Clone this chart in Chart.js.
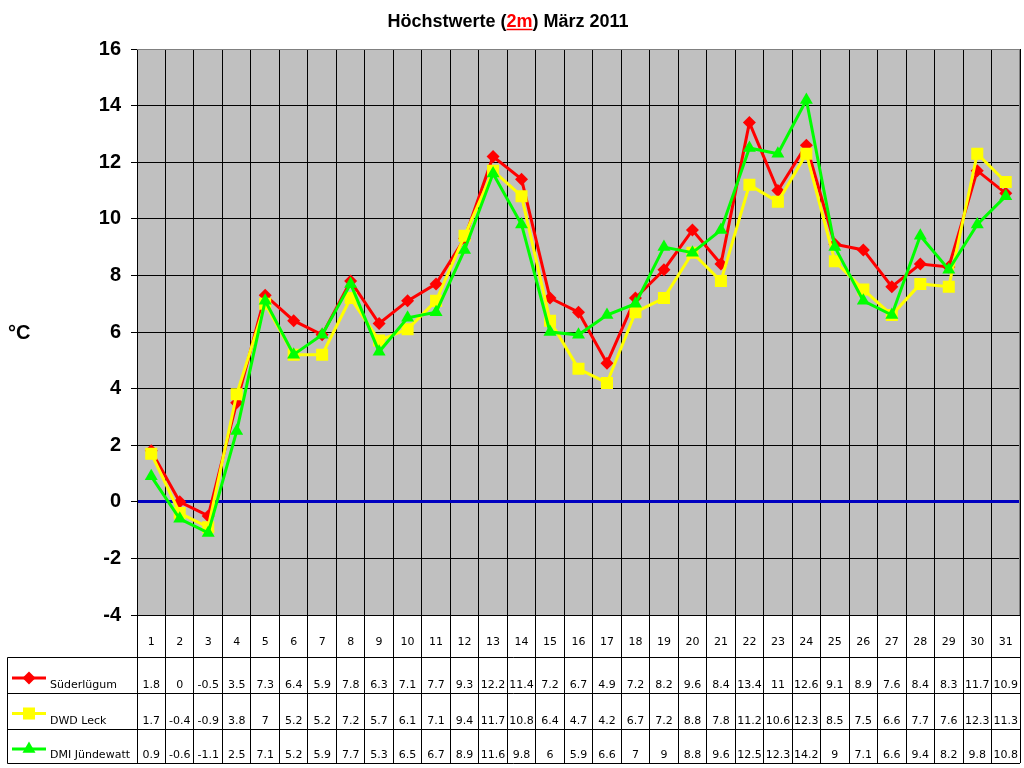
<!DOCTYPE html>
<html><head><meta charset="utf-8">
<script src="https://cdn.jsdelivr.net/npm/chart.js@4.4.0/dist/chart.umd.min.js"></script>
<style>html,body{margin:0;padding:0;background:#fff;overflow:hidden}canvas{display:block}</style>
</head><body>
<canvas id="c" width="1024" height="768"></canvas>
<script>
const days = ['1','2','3','4','5','6','7','8','9','10','11','12','13','14','15','16','17','18','19','20','21','22','23','24','25','26','27','28','29','30','31'];
const suederluegum = [1.8,0,-0.5,3.5,7.3,6.4,5.9,7.8,6.3,7.1,7.7,9.3,12.2,11.4,7.2,6.7,4.9,7.2,8.2,9.6,8.4,13.4,11,12.6,9.1,8.9,7.6,8.4,8.3,11.7,10.9];
const dwdLeck = [1.7,-0.4,-0.9,3.8,7,5.2,5.2,7.2,5.7,6.1,7.1,9.4,11.7,10.8,6.4,4.7,4.2,6.7,7.2,8.8,7.8,11.2,10.6,12.3,8.5,7.5,6.6,7.7,7.6,12.3,11.3];
const dmiJuendewatt = [0.9,-0.6,-1.1,2.5,7.1,5.2,5.9,7.7,5.3,6.5,6.7,8.9,11.6,9.8,6,5.9,6.6,7,9,8.8,9.6,12.5,12.3,14.2,9,7.1,6.6,9.4,8.2,9.8,10.8];
const seriesNames = ['Süderlügum','DWD Leck','DMI Jündewatt'];
const yMin = -4, yMax = 16, yStep = 2;
const titleParts = [['Höchstwerte (', '#000', false], ['2m', '#ff0000', true], [') März 2011', '#000', false]];
const unitLabel = '°C';

const colors = ['#ff0000', '#ffff00', '#00ff00'];
const shapes = ['rectRot', 'rect', 'triangle'];
const radii = [6.5, 8.5, 7.5];
const seriesData = [suederluegum, dwdLeck, dmiJuendewatt];

const TABLE_LEFT = 7.5;
const ROWS = [657.5, 693.5, 729.5, 763.5];
const FONT_T = '11px "DejaVu Sans"';

function drawMarker(ctx, shape, x, y, r, color) {
  ctx.save();
  ctx.fillStyle = color;
  ctx.beginPath();
  if (shape === 'rectRot') {
    ctx.moveTo(x, y - r); ctx.lineTo(x + r, y); ctx.lineTo(x, y + r); ctx.lineTo(x - r, y);
  } else if (shape === 'rect') {
    const s = r * Math.SQRT1_2;
    ctx.rect(x - s, y - s, 2 * s, 2 * s);
  } else {
    ctx.moveTo(x, y - r);
    ctx.lineTo(x + r * Math.sin(2 * Math.PI / 3), y - r * Math.cos(2 * Math.PI / 3));
    ctx.lineTo(x + r * Math.sin(4 * Math.PI / 3), y - r * Math.cos(4 * Math.PI / 3));
  }
  ctx.closePath();
  ctx.fill();
  ctx.restore();
}

const decor = {
  id: 'decor',
  beforeDraw(chart) {
    const {ctx, chartArea: a} = chart;
    ctx.save();
    ctx.fillStyle = '#c0c0c0';
    ctx.fillRect(a.left, a.top, a.right - a.left, a.bottom - a.top);
    ctx.restore();
  },
  beforeDatasetsDraw(chart) {
    const {ctx, chartArea: a} = chart;
    ctx.save();
    ctx.strokeStyle = '#808080';
    ctx.lineWidth = 1;
    ctx.beginPath();
    ctx.moveTo(a.left, Math.round(a.top) + 0.5);
    ctx.lineTo(Math.round(a.right) - 0.5, Math.round(a.top) + 0.5);
    ctx.lineTo(Math.round(a.right) - 0.5, a.bottom);
    ctx.stroke();
    ctx.restore();
  },
  afterDraw(chart) {
    const {ctx, chartArea: a} = chart;
    const xs = chart.scales.x;
    ctx.save();
    ctx.strokeStyle = '#000';
    ctx.lineWidth = 1;
    ctx.beginPath();
    ROWS.forEach(yy => { ctx.moveTo(TABLE_LEFT, yy); ctx.lineTo(a.right, yy); });
    ctx.moveTo(TABLE_LEFT, ROWS[0]); ctx.lineTo(TABLE_LEFT, ROWS[3]);
    ctx.stroke();
    for (let s = 0; s < 3; s++) {
      const top = ROWS[s], bot = ROWS[s + 1];
      const ly = top + 20.5 - s * 0.5;
      ctx.strokeStyle = colors[s];
      ctx.lineWidth = 3;
      ctx.beginPath(); ctx.moveTo(12, ly); ctx.lineTo(46, ly); ctx.stroke();
      drawMarker(ctx, shapes[s], 29, ly, radii[s], colors[s]);
      ctx.fillStyle = '#000';
      ctx.font = FONT_T;
      ctx.textBaseline = 'middle';
      ctx.textAlign = 'left';
      ctx.fillText(seriesNames[s], 50, bot - 8.5);
      ctx.textAlign = 'center';
      seriesData[s].forEach((v, i) => {
        ctx.fillText(String(v), xs.getPixelForValue(i), bot - 8.5);
      });
    }
    ctx.font = 'bold 20px "Liberation Sans", Arial';
    ctx.textAlign = 'left';
    ctx.textBaseline = 'middle';
    ctx.fillStyle = '#000';
    ctx.fillText(unitLabel, 8, 333);
    ctx.font = 'bold 18px "Liberation Sans", Arial';
    const widths = titleParts.map(p => ctx.measureText(p[0]).width);
    const total = widths.reduce((q, w) => q + w, 0);
    let tx = 508 - total / 2;
    const ty = 27;
    ctx.textBaseline = 'alphabetic';
    titleParts.forEach((p, k) => {
      ctx.fillStyle = p[1];
      ctx.fillText(p[0], tx, ty);
      if (p[2]) {
        ctx.strokeStyle = p[1];
        ctx.lineWidth = 1.5;
        ctx.beginPath(); ctx.moveTo(tx, ty + 2.5); ctx.lineTo(tx + widths[k], ty + 2.5); ctx.stroke();
      }
      tx += widths[k];
    });
    ctx.restore();
  }
};

new Chart(document.getElementById('c'), {
  type: 'line',
  data: {
    labels: days,
    datasets: seriesData.map((d, s) => ({
      label: seriesNames[s],
      data: d,
      borderColor: colors[s],
      backgroundColor: colors[s],
      borderWidth: 3,
      pointStyle: shapes[s],
      pointRadius: radii[s],
      pointHoverRadius: radii[s],
      pointBorderWidth: 0,
      pointBackgroundColor: colors[s],
      tension: 0,
      order: 3 - s
    }))
  },
  options: {
    responsive: false,
    devicePixelRatio: 1,
    animation: false,
    events: [],
    layout: {autoPadding: false, padding: {top: 49, right: 4, left: 0, bottom: 0}},
    plugins: {legend: {display: false}, title: {display: false}, tooltip: {enabled: false}},
    scales: {
      x: {
        offset: true,
        afterFit(scale) { scale.height = 153; },
        grid: {offset: true, color: '#000', lineWidth: 1, tickColor: '#000', tickLength: 148, drawTicks: true},
        border: {display: true, color: '#000', width: 1},
        ticks: {font: {family: 'DejaVu Sans', size: 11}, color: '#000', padding: -127, maxRotation: 0, autoSkip: false}
      },
      y: {
        min: yMin, max: yMax,
        afterFit(scale) { scale.width = 137; },
        grid: {
          color: ctx => ctx.tick && ctx.tick.value === 0 ? '#0000c0' : (ctx.tick && ctx.tick.value === yMax ? '#808080' : '#000'),
          lineWidth: ctx => ctx.tick && ctx.tick.value === 0 ? 3 : 1,
          tickColor: '#000', tickWidth: 1, tickLength: 6
        },
        border: {display: true, color: '#000', width: 1},
        ticks: {stepSize: yStep, font: {family: 'Liberation Sans', size: 20, weight: 'bold'}, color: '#000', padding: 10}
      }
    }
  },
  plugins: [decor]
});
</script>
</body></html>
